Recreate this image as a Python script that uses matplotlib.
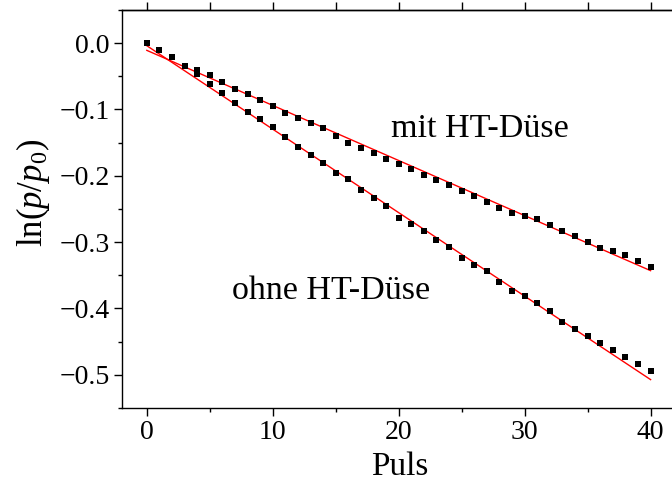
import numpy as np
import matplotlib.pyplot as plt
from matplotlib.ticker import MultipleLocator

plt.rcParams['font.family'] = ['Liberation Serif', 'DejaVu Serif']
plt.rcParams['mathtext.fontset'] = 'custom'
plt.rcParams['mathtext.rm'] = 'Liberation Serif'
plt.rcParams['mathtext.it'] = 'Liberation Serif:italic'

puls = np.arange(0, 41)

mit_ht = [0.0, -0.011, -0.0205, -0.034, -0.041, -0.0475, -0.058, -0.0695, -0.0765, -0.0865,
          -0.0945, -0.106, -0.113, -0.1205, -0.1275, -0.1395, -0.151, -0.158, -0.166, -0.175,
          -0.182, -0.190, -0.1985, -0.206, -0.214, -0.223, -0.2305, -0.2395, -0.248, -0.256,
          -0.261, -0.265, -0.274, -0.2825, -0.2915, -0.3005, -0.3095, -0.314, -0.319, -0.328,
          -0.337]

ohne_ht = [0.0, -0.011, -0.0205, -0.034, -0.046, -0.061, -0.0755, -0.09, -0.1045, -0.115,
           -0.127, -0.1415, -0.156, -0.1685, -0.1805, -0.1965, -0.2045, -0.221, -0.233, -0.2455,
           -0.2635, -0.272, -0.2825, -0.2975, -0.307, -0.3245, -0.334, -0.344, -0.36, -0.373,
           -0.3815, -0.391, -0.4045, -0.421, -0.4315, -0.4415, -0.452, -0.463, -0.4735, -0.4835,
           -0.494]

# fit lines (intercept, slope)
fit_mit = (-0.011, -0.0083)
fit_ohne = (-0.004, -0.01258)

fig = plt.figure(figsize=(6.72, 4.82), dpi=100)
ax = fig.add_axes([0.181, 0.1535, 0.819, 0.826])

xf = np.array([0, 40])
ax.plot(xf, fit_mit[0] + fit_mit[1]*xf, '-', color='#ff0000', lw=1.0)
ax.plot(xf, fit_ohne[0] + fit_ohne[1]*xf, '-', color='#ff0000', lw=1.0)
ax.plot(puls, mit_ht, 's', color='black', ms=4.3, mew=0)
ax.plot(puls, ohne_ht, 's', color='black', ms=4.3, mew=0)

ax.set_xlim(-2, 41.7)
ax.set_ylim(-0.55, 0.05)
ax.xaxis.set_major_locator(MultipleLocator(10))
ax.xaxis.set_minor_locator(MultipleLocator(5))
ax.yaxis.set_major_locator(MultipleLocator(0.1))
ax.yaxis.set_minor_locator(MultipleLocator(0.05))
ax.spines['right'].set_visible(False)
for s in ['left', 'bottom', 'top']:
    ax.spines[s].set_linewidth(1.0)
ax.tick_params(which='major', direction='out', length=5.5, width=1.0, labelsize=20, pad=3)
ax.tick_params(which='minor', direction='out', length=3, width=1.0)
ax.tick_params(axis='x', which='both', top=False)
ax.yaxis.set_major_formatter(plt.FuncFormatter(lambda v, p: ('%.1f' % v).replace('-', '\u2212')))

# top ticks every 5, all same length
top = ax.secondary_xaxis('top')
top.set_xticks(np.arange(0, 41, 5))
top.set_xticklabels([])
top.tick_params(direction='out', length=5.5, width=1.0)
top.spines['top'].set_linewidth(1.0)

ax.set_xlabel('Puls', fontsize=24)
ax.xaxis.set_label_coords(0.505, -0.11)
ax.set_ylabel(r'ln($p$/$p_0$)', fontsize=25)
ax.yaxis.set_label_coords(-0.127, 0.54)

ax.text(19.4, -0.141, 'mit HT-Düse', fontsize=24.5, va='baseline')
ax.text(6.75, -0.386, 'ohne HT-Düse', fontsize=24.5, va='baseline')

plt.savefig('out.png', dpi=100)
